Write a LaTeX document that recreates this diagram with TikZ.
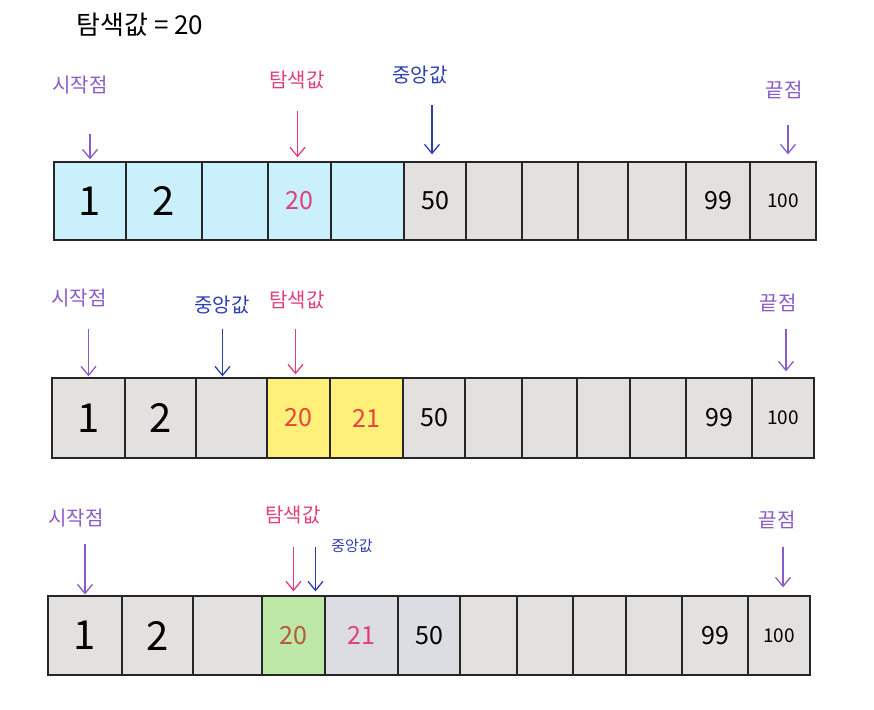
\documentclass[tikz,border=0pt]{standalone}
\usepackage{fontspec}
\setmainfont{Noto Sans CJK KR}
\usetikzlibrary{arrows.meta,positioning}

\definecolor{skyfill}{HTML}{C9F0FB}
\definecolor{grayfill}{HTML}{E3E1DF}
\definecolor{bluegray}{HTML}{DCDDE2}
\definecolor{yellowfill}{HTML}{FFF07A}
\definecolor{greenfill}{HTML}{BDE8A8}
\definecolor{startcol}{HTML}{8A5CC8}
\definecolor{searchcol}{HTML}{E0407A}
\definecolor{midcol}{HTML}{2E3FB0}
\definecolor{redcol}{HTML}{E8453C}
\definecolor{browncol}{HTML}{B85A3A}

\newcommand\numL{\fontsize{40}{40}\selectfont}
\newcommand\numM{\fontsize{25}{25}\selectfont}
\newcommand\numS{\fontsize{19}{19}\selectfont}

\tikzset{
  cell/.style={draw=black!85, line width=1.3pt, inner sep=0pt},
  lbl/.style={font=\fontsize{20}{20}\selectfont, inner sep=0pt},
  arr/.style={-{Straight Barb[length=9pt,width=15pt]}, line width=1.3pt},
}

\begin{document}
\begin{tikzpicture}[x=1pt,y=-1pt]
    \useasboundingbox (0,0) rectangle (874,709);

    % Title
    \node[font=\fontsize{26}{26}\selectfont, inner sep=0pt] (title) at (140,25) {탐색값 = 20};

    % Row 1
    \foreach \a/\b/\n/\c/\t in {54/126/1/skyfill/{\numL 1}, 126/202/2/skyfill/{\numL 2},
        202/268/3/skyfill/{}, 268/331/4/skyfill/{\numM\color{searchcol}20},
        331/404/5/skyfill/{}, 404/466/6/grayfill/{\numM 50}, 466/522/7/grayfill/{},
        522/578/8/grayfill/{}, 578/628/9/grayfill/{}, 628/686/10/grayfill/{},
        686/750/11/grayfill/{\numM 99}, 750/816/12/grayfill/{\numS 100}} {
        \node[cell, fill=\c, minimum width={(\b-\a)*1pt}, minimum height=78pt] (r1c\n) at ({(\a+\b)/2},201) {\t};
    }
    \node[lbl, text=startcol] (st1) at (80,85) {시작점};
    \node[lbl, text=searchcol] (se1) at (297,80) {탐색값};
    \node[lbl, text=midcol] (md1) at (420,75) {중앙값};
    \node[lbl, text=startcol] (en1) at (784,90) {끝점};
    \draw[arr, startcol] ([yshift=27pt]r1c1.north) -- ([yshift=2pt]r1c1.north);
    \draw[arr, searchcol] ([xshift=-2pt,yshift=50pt]r1c4.north) -- ([xshift=-2pt,yshift=4pt]r1c4.north);
    \draw[arr, midcol] ([xshift=-3pt,yshift=56pt]r1c6.north) -- ([xshift=-3pt,yshift=7pt]r1c6.north);
    \draw[arr, startcol] ([xshift=5pt,yshift=36pt]r1c12.north) -- ([xshift=5pt,yshift=7pt]r1c12.north);

    % Row 2
    \foreach \a/\b/\n/\c/\t in {52/125/1/grayfill/{\numL 1}, 125/196/2/grayfill/{\numL 2},
        196/267/3/grayfill/{}, 267/330/4/yellowfill/{\numM\color{redcol}20},
        330/403/5/yellowfill/{\numM\color{redcol}21}, 403/465/6/grayfill/{\numM 50},
        465/522/7/grayfill/{}, 522/577/8/grayfill/{}, 577/630/9/grayfill/{},
        630/686/10/grayfill/{}, 686/752/11/grayfill/{\numM 99}, 752/814/12/grayfill/{\numS 100}} {
        \node[cell, fill=\c, minimum width={(\b-\a)*1pt}, minimum height=80pt] (r2c\n) at ({(\a+\b)/2},418) {\t};
    }
    \node[lbl, text=startcol] (st2) at (79,298) {시작점};
    \node[lbl, text=midcol] (md2) at (222,305) {중앙값};
    \node[lbl, text=searchcol] (se2) at (297,300) {탐색값};
    \node[lbl, text=startcol] (en2) at (778,303) {끝점};
    \draw[arr, startcol] ([yshift=48pt]r2c1.north) -- ([yshift=1pt]r2c1.north);
    \draw[arr, midcol] ([xshift=-9pt,yshift=48pt]r2c3.north) -- ([xshift=-9pt,yshift=1pt]r2c3.north);
    \draw[arr, searchcol] ([xshift=-3pt,yshift=48pt]r2c4.north) -- ([xshift=-3pt,yshift=3pt]r2c4.north);
    \draw[arr, startcol] ([xshift=3pt,yshift=48pt]r2c12.north) -- ([xshift=3pt,yshift=6pt]r2c12.north);

    % Row 3
    \foreach \a/\b/\n/\c/\t in {48/122/1/grayfill/{\numL 1}, 122/193/2/grayfill/{\numL 2},
        193/262/3/grayfill/{}, 262/325/4/greenfill/{\numM\color{browncol}20},
        325/398/5/bluegray/{\numM\color{searchcol}21}, 398/460/6/bluegray/{\numM 50},
        460/517/7/grayfill/{}, 517/573/8/grayfill/{}, 573/626/9/grayfill/{},
        626/682/10/grayfill/{}, 682/748/11/grayfill/{\numM 99}, 748/810/12/grayfill/{\numS 100}} {
        \node[cell, fill=\c, minimum width={(\b-\a)*1pt}, minimum height=79pt] (r3c\n) at ({(\a+\b)/2},635.5) {\t};
    }
    \node[lbl, text=startcol] (st3) at (76,518) {시작점};
    \node[lbl, text=searchcol] (se3) at (293,515) {탐색값};
    \node[lbl, text=midcol, font=\fontsize{15}{15}\selectfont] (md3) at (352,546) {중앙값};
    \node[lbl, text=startcol] (en3) at (777,520) {끝점};
    \draw[arr, startcol] ([yshift=51pt]r3c1.north) -- ([yshift=1pt]r3c1.north);
    \draw[arr, searchcol] ([yshift=48pt]r3c4.north) -- ([yshift=4pt]r3c4.north);
    \draw[arr, midcol] ([xshift=22pt,yshift=48pt]r3c4.north) -- ([xshift=22pt,yshift=4pt]r3c4.north);
    \draw[arr, startcol] ([xshift=4pt,yshift=48pt]r3c12.north) -- ([xshift=4pt,yshift=8pt]r3c12.north);
\end{tikzpicture}
\end{document}
